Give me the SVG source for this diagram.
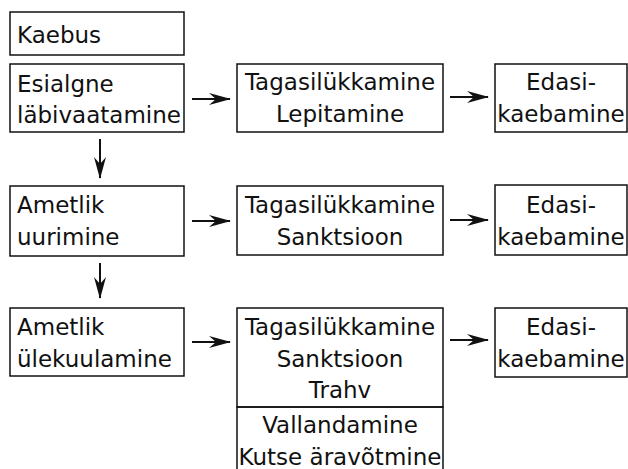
<svg xmlns="http://www.w3.org/2000/svg" width="628" height="469" viewBox="0 0 628 469">
  <style>
    .box { fill: #fff; stroke: #111; stroke-width: 1.5; }
    .t { font-family: "DejaVu Sans", "Open Sans", sans-serif; font-size: 23px; fill: #111; }
    .c { text-anchor: middle; }
    .edge { stroke: #111; stroke-width: 1.5; fill: none; }
    .arrow { stroke: #111; stroke-width: 2; fill: none; }
  </style>
  <defs>
    <marker id="head" viewBox="0 0 22 12" refX="21" refY="6" markerWidth="22" markerHeight="12" markerUnits="userSpaceOnUse" orient="auto">
      <path d="M0,0 L22,6 L0,12 L7,6 Z" fill="#111"/>
    </marker>
  </defs>
  <rect width="628" height="469" fill="#fff"/>

  <!-- column 1: process stages -->
  <g id="kaebus">
    <rect class="box" x="10" y="12" width="174" height="43"/>
    <text class="t" x="17" y="43">Kaebus</text>
  </g>
  <g id="esialgne">
    <rect class="box" x="10" y="64" width="174" height="68"/>
    <text class="t" x="17" y="92">Esialgne</text>
    <text class="t" x="17" y="123">läbivaatamine</text>
  </g>
  <g id="uurimine">
    <rect class="box" x="10" y="186" width="174" height="70"/>
    <text class="t" x="17" y="213">Ametlik</text>
    <text class="t" x="17" y="245">uurimine</text>
  </g>
  <g id="ylekuulamine">
    <rect class="box" x="10" y="308" width="174" height="68"/>
    <text class="t" x="17" y="335">Ametlik</text>
    <text class="t" x="17" y="367">ülekuulamine</text>
  </g>

  <!-- column 2: outcomes -->
  <g id="otsus1">
    <rect class="box" x="237" y="64" width="206" height="68"/>
    <text class="t c" x="340" y="90">Tagasilükkamine</text>
    <text class="t c" x="340" y="122">Lepitamine</text>
  </g>
  <g id="otsus2">
    <rect class="box" x="237" y="186" width="206" height="69"/>
    <text class="t c" x="340" y="213">Tagasilükkamine</text>
    <text class="t c" x="340" y="245">Sanktsioon</text>
  </g>
  <g id="otsus3">
    <rect class="box" x="237" y="308" width="206" height="99"/>
    <text class="t c" x="340" y="335">Tagasilükkamine</text>
    <text class="t c" x="340" y="367">Sanktsioon</text>
    <text class="t c" x="340" y="398">Trahv</text>
  </g>
  <g id="otsus3b">
    <path class="edge" d="M237,475 V407 H443 V475"/>
    <text class="t c" x="340" y="433">Vallandamine</text>
    <text class="t c" x="340" y="465">Kutse äravõtmine</text>
  </g>

  <!-- column 3: appeals -->
  <g id="edasi1">
    <rect class="box" x="495" y="64" width="132" height="68"/>
    <text class="t c" x="561" y="90">Edasi-</text>
    <text class="t c" x="561" y="122">kaebamine</text>
  </g>
  <g id="edasi2">
    <rect class="box" x="495" y="185" width="132" height="70"/>
    <text class="t c" x="561" y="213">Edasi-</text>
    <text class="t c" x="561" y="245">kaebamine</text>
  </g>
  <g id="edasi3">
    <rect class="box" x="495" y="308" width="132" height="69"/>
    <text class="t c" x="561" y="335">Edasi-</text>
    <text class="t c" x="561" y="367">kaebamine</text>
  </g>

  <!-- connectors -->
  <g id="connectors">
    <line class="arrow" x1="192" y1="99" x2="230" y2="99" marker-end="url(#head)"/>
    <line class="arrow" x1="450" y1="97" x2="488" y2="97" marker-end="url(#head)"/>
    <line class="arrow" x1="192" y1="221" x2="230" y2="221" marker-end="url(#head)"/>
    <line class="arrow" x1="450" y1="220" x2="488" y2="220" marker-end="url(#head)"/>
    <line class="arrow" x1="192" y1="342" x2="230" y2="342" marker-end="url(#head)"/>
    <line class="arrow" x1="450" y1="340" x2="488" y2="340" marker-end="url(#head)"/>
    <line class="arrow" x1="100" y1="139" x2="100" y2="178" marker-end="url(#head)"/>
    <line class="arrow" x1="100" y1="263" x2="100" y2="298" marker-end="url(#head)"/>
  </g>
</svg>
